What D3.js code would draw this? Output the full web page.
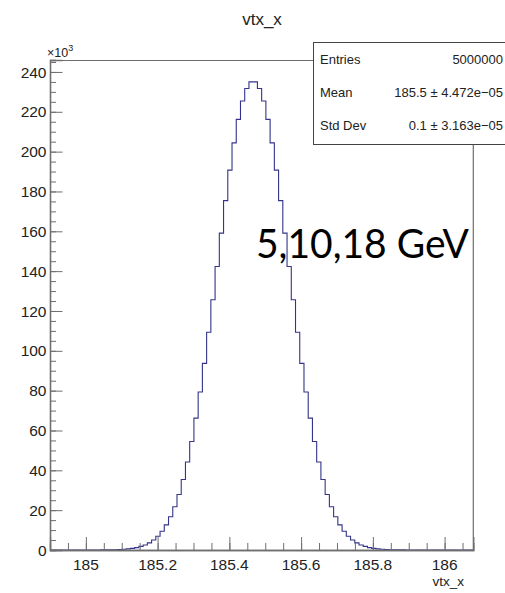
<!DOCTYPE html>
<html>
<head>
<meta charset="utf-8">
<script src="https://cdn.jsdelivr.net/npm/d3@7"></script>
<style>
body { margin: 0; background: #fff; }
text { font-family: "Liberation Sans", Arial, sans-serif; }
</style>
</head>
<body>
<svg id="chart" width="505" height="593"></svg>
<script>
// histogram range (vtx_x) and bin contents in units of 10^3 entries, 100 bins
var xRange = [184.9, 186.08];
var counts = [
	0, 0, 0, 0, 0, 0, 0, 0, 0, 0.01,
	0.01, 0.02, 0.04, 0.06, 0.10, 0.15, 0.24, 0.36, 0.55, 0.8,
	1.2, 1.8, 2.5, 3.6, 5.0, 6.9, 9.4, 12.6, 16.7, 21.7,
	27.9, 35.4, 44.2, 54.5, 66.2, 79.3, 93.7, 109.3, 125.6, 142.3,
	159.1, 175.4, 190.7, 204.4, 216.2, 225.4, 231.7, 235.0, 235.0, 231.7,
	225.4, 216.2, 204.4, 190.7, 175.4, 159.1, 142.3, 125.6, 109.3, 93.7,
	79.3, 66.2, 54.5, 44.2, 35.4, 27.9, 21.7, 16.7, 12.6, 9.4,
	6.9, 5.0, 3.6, 2.5, 1.8, 1.2, 0.8, 0.55, 0.36, 0.24,
	0.15, 0.10, 0.06, 0.04, 0.02, 0.01, 0.01, 0, 0, 0,
	0, 0, 0, 0, 0, 0, 0, 0, 0, 0
];
var yMax = 246;

// tick labels
var xTicks = [185, 185.2, 185.4, 185.6, 185.8, 186];
var yTicks = [0, 20, 40, 60, 80, 100, 120, 140, 160, 180, 200, 220, 240];

// stats box
var statNames = ["Entries", "Mean", "Std Dev"];
var statValues = ["5000000", "185.5 \u00b1 4.472e\u221205", "0.1 \u00b1 3.163e\u221205"];

var title = "vtx_x";
var xTitle = "vtx_x";
var note = "5,10,18 GeV";

var margin = {top: 60, right: 31.7, bottom: 43, left: 50},
	width = 505 - margin.left - margin.right,
	height = 593 - margin.top - margin.bottom;

var svg = d3.select("#chart");
var g = svg.append("g")
	.attr("transform", "translate(" + margin.left + "," + margin.top + ")");

var x = d3.scaleLinear()
	.domain(xRange)
	.range([0, width]);

var y = d3.scaleLinear()
	.domain([0, yMax])
	.range([height, 0]);

var binWidth = (xRange[1] - xRange[0]) / counts.length;

// step outline of the histogram
var pts = counts.map(function(c, i){ return [xRange[0] + i * binWidth, c]; });
pts.push([xRange[1], counts[counts.length - 1]]);

var line = d3.line()
	.x(function(d){ return x(d[0]); })
	.y(function(d){ return y(d[1]); })
	.curve(d3.curveStepAfter);

g.append("path")
	.datum(pts)
	.attr("d", line)
	.attr("fill", "none")
	.attr("stroke", "#34348a")
	.attr("stroke-width", 1.1);

// frame top + right
g.append("path")
	.attr("d", "M0,0.5H" + width + "V" + height)
	.attr("fill", "none")
	.attr("stroke", "#6e6e6e")
	.attr("stroke-width", 1.2);

// x axis, ticks inside
var xMinor = d3.range(184.95, 186.08, 0.05);
var xAxis = g.append("g")
	.attr("transform", "translate(0," + height + ")");
xAxis.call(d3.axisTop(x).tickValues(xMinor).tickSize(7).tickFormat(""));
xAxis.append("g").call(d3.axisTop(x).tickValues(xTicks).tickSize(13).tickFormat(""));
xAxis.selectAll("path.domain").attr("stroke", "#6e6e6e").attr("stroke-width", 1.3);
xAxis.selectAll(".tick line").attr("stroke", "#6e6e6e");

xAxis.selectAll("text.xlab")
	.data(xTicks)
	.enter()
	.append("text")
	.attr("class", "xlab")
	.attr("x", function(d){ return x(d); })
	.attr("y", 20)
	.attr("text-anchor", "middle")
	.style("font-size", "15.5px")
	.attr("fill", "#222")
	.text(function(d){ return d3.format("")(d); });

// y axis, ticks inside
var yMinor = d3.range(0, 246, 5);
var yAxis = g.append("g");
yAxis.call(d3.axisRight(y).tickValues(yMinor).tickSize(6).tickFormat(""));
yAxis.append("g").call(d3.axisRight(y).tickValues(yTicks).tickSize(12.5).tickFormat(""));
yAxis.selectAll("path.domain").attr("stroke", "#6e6e6e").attr("stroke-width", 1.3);
yAxis.selectAll(".tick line").attr("stroke", "#6e6e6e");

yAxis.selectAll("text.ylab")
	.data(yTicks)
	.enter()
	.append("text")
	.attr("class", "ylab")
	.attr("x", -3.5)
	.attr("y", function(d){ return y(d); })
	.attr("dy", "0.36em")
	.attr("text-anchor", "end")
	.style("font-size", "15.5px")
	.attr("fill", "#222")
	.text(function(d){ return d; });

// x10^3 multiplier
var mult = svg.append("text")
	.attr("x", 47)
	.attr("y", 57)
	.style("font-size", "12.5px")
	.attr("fill", "#222");
mult.append("tspan").text("\u00d710");
mult.append("tspan").attr("dy", -6).style("font-size", "9px").text("3");

// titles
svg.append("text")
	.attr("x", 262)
	.attr("y", 25)
	.attr("text-anchor", "middle")
	.style("font-size", "17px")
	.attr("fill", "#222")
	.text(title);

svg.append("text")
	.attr("x", 464)
	.attr("y", 586)
	.attr("text-anchor", "end")
	.style("font-size", "13.5px")
	.attr("fill", "#222")
	.text(xTitle);

// stats box
var box = svg.append("g");
box.append("rect")
	.attr("x", 313.5)
	.attr("y", 42.5)
	.attr("width", 200)
	.attr("height", 102)
	.attr("fill", "#fff")
	.attr("stroke", "#444")
	.attr("stroke-width", 1);

box.selectAll("text.sname")
	.data(statNames)
	.enter()
	.append("text")
	.attr("class", "sname")
	.attr("x", 320)
	.attr("y", function(d, i){ return 64 + i * 33; })
	.style("font-size", "13px")
	.attr("fill", "#222")
	.text(function(d){ return d; });

box.selectAll("text.sval")
	.data(statValues)
	.enter()
	.append("text")
	.attr("class", "sval")
	.attr("x", 503)
	.attr("y", function(d, i){ return 64 + i * 33; })
	.attr("text-anchor", "end")
	.style("font-size", "13px")
	.attr("fill", "#222")
	.text(function(d){ return d; });

// energy label pasted on top
svg.append("text")
	.attr("x", 256)
	.attr("y", 258)
	.attr("textLength", 213)
	.attr("lengthAdjust", "spacingAndGlyphs")
	.style("font-family", "Lato, 'Open Sans', sans-serif")
	.style("font-size", "40px")
	.attr("fill", "#000")
	.text(note);
</script>
</body>
</html>
